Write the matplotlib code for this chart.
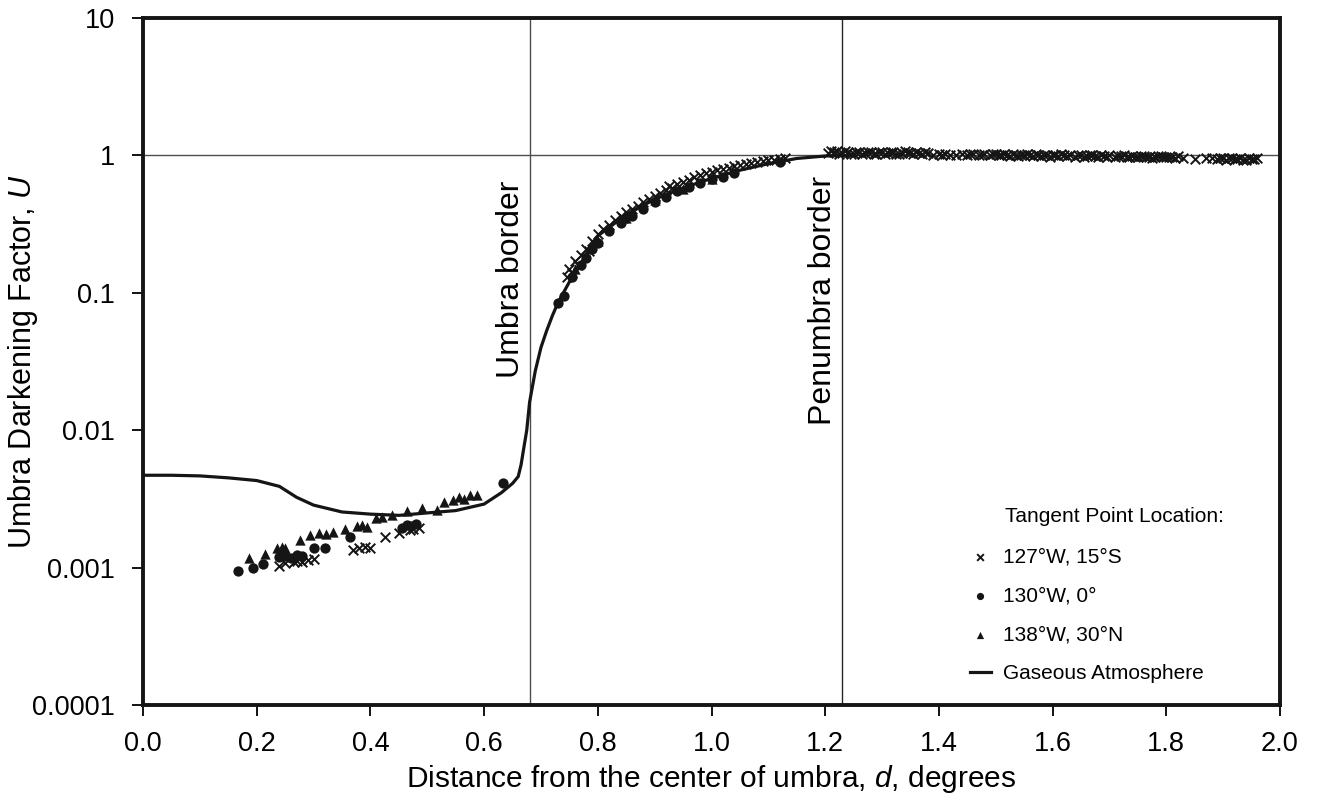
import matplotlib
matplotlib.use("Agg")
import matplotlib.pyplot as plt
from matplotlib.ticker import FixedLocator, FuncFormatter, NullLocator

plt.rcParams["font.family"] = ["Liberation Sans", "DejaVu Sans"]
plt.rcParams["mathtext.fontset"] = "custom"
plt.rcParams["mathtext.rm"] = "Liberation Sans"
plt.rcParams["mathtext.it"] = "Liberation Sans:italic"

# gaseous atmosphere model curve
gas_d = [0.0, 0.05, 0.10, 0.15, 0.20, 0.24, 0.27, 0.30, 0.35, 0.40, 0.45, 0.50,
         0.55, 0.60, 0.63, 0.65, 0.66, 0.665, 0.67, 0.675, 0.68, 0.69, 0.70, 0.71,
         0.72, 0.73, 0.75, 0.78, 0.80, 0.85, 0.90, 0.95, 1.00, 1.05, 1.10, 1.15,
         1.20, 1.25]
gas_u = [0.0047, 0.0047, 0.00465, 0.0045, 0.0043, 0.0039, 0.00325, 0.00285, 0.00254,
         0.00245, 0.0024, 0.0025, 0.0026, 0.0029, 0.0035, 0.0041, 0.0046, 0.0056,
         0.0075, 0.010, 0.016, 0.027, 0.040, 0.053, 0.068, 0.085, 0.12, 0.19, 0.26,
         0.37, 0.48, 0.58, 0.68, 0.78, 0.87, 0.95, 0.99, 1.0]

# 127W, 15S (crosses)
s1_d = [0.24, 0.25, 0.265, 0.27, 0.28, 0.29, 0.30, 0.37, 0.38, 0.39, 0.40, 0.425,
        0.45, 0.47, 0.475, 0.485,
        0.745, 0.75, 0.755, 0.76, 0.765, 0.77, 0.78, 0.785, 0.79, 0.80, 0.81, 0.82,
        0.83, 0.84, 0.845, 0.85, 0.86, 0.87, 0.88, 0.89, 0.90, 0.91, 0.92, 0.925,
        0.93, 0.94, 0.95, 0.96, 0.97, 0.98, 0.99, 1.00, 1.01, 1.02, 1.03, 1.04,
        1.05, 1.06, 1.07, 1.08, 1.09, 1.10, 1.11, 1.12, 1.13,
        1.21, 1.215, 1.22, 1.23, 1.24, 1.25, 1.26, 1.27, 1.28, 1.29, 1.30, 1.31,
        1.32, 1.33, 1.34, 1.35, 1.36, 1.37, 1.38, 1.39, 1.40, 1.41, 1.42, 1.43,
        1.44, 1.45, 1.46, 1.47, 1.48, 1.49, 1.50, 1.51, 1.52, 1.53, 1.54, 1.55,
        1.56, 1.57, 1.58, 1.59, 1.60, 1.61, 1.62, 1.63, 1.64, 1.65, 1.66, 1.67,
        1.68, 1.69, 1.70, 1.71, 1.72, 1.73, 1.74, 1.75, 1.76, 1.77, 1.78, 1.79,
        1.80, 1.81, 1.82, 1.83, 1.85, 1.87, 1.88, 1.89, 1.90, 1.91, 1.92, 1.93,
        1.94, 1.95, 1.96,
        1.205, 1.225, 1.235, 1.245, 1.255, 1.265, 1.275, 1.285, 1.295, 1.305,
        1.315, 1.325, 1.335, 1.345, 1.355, 1.365, 1.375, 1.405, 1.455, 1.475,
        1.495, 1.505, 1.515, 1.525, 1.535, 1.545, 1.555, 1.565, 1.575, 1.585,
        1.595, 1.605, 1.615, 1.625, 1.645, 1.655, 1.665, 1.675, 1.685, 1.695,
        1.715, 1.725, 1.735, 1.745, 1.755, 1.765, 1.775, 1.785, 1.795, 1.805,
        1.815, 1.895, 1.905, 1.915, 1.925, 1.935, 1.945, 1.955]
s1_u = [0.00102, 0.00108, 0.00110, 0.00112, 0.00110, 0.00113, 0.00115, 0.00135,
        0.00138, 0.00142, 0.00140, 0.00168, 0.00180, 0.00188, 0.00192, 0.00195,
        0.13, 0.15, 0.14, 0.17, 0.16, 0.19, 0.21, 0.20, 0.24, 0.27, 0.29, 0.31,
        0.34, 0.36, 0.35, 0.39, 0.41, 0.43, 0.46, 0.48, 0.51, 0.53, 0.56, 0.60,
        0.58, 0.62, 0.64, 0.66, 0.70, 0.72, 0.74, 0.76, 0.78, 0.80, 0.81, 0.84,
        0.85, 0.86, 0.88, 0.89, 0.91, 0.92, 0.93, 0.94, 0.95,
        1.08, 1.05, 1.07, 1.04, 1.06, 1.03, 1.05, 1.04, 1.06, 1.03, 1.05, 1.04,
        1.06, 1.03, 1.07, 1.04, 1.05, 1.03, 1.04, 1.01, 1.02, 1.03, 1.00, 1.01,
        1.02, 1.00, 1.02, 1.01, 1.03, 1.00, 1.02, 1.01, 1.00, 1.02, 0.99, 1.01,
        1.00, 1.02, 0.99, 1.00, 1.01, 0.99, 1.00, 1.01, 0.98, 1.00, 0.99, 1.00,
        0.98, 0.99, 1.00, 0.98, 0.99, 0.97, 0.99, 0.98, 0.99, 0.97, 0.98, 0.99,
        0.97, 0.98, 0.99, 0.96, 0.94, 0.95, 0.96, 0.94, 0.95, 0.96, 0.94, 0.95,
        0.93, 0.94, 0.95,
        1.04, 1.03, 1.07, 1.03, 1.05, 1.02, 1.06, 1.03, 1.05, 1.02, 1.06, 1.03,
        1.04, 1.06, 1.02, 1.04, 1.06, 1.00, 1.03, 1.00, 1.02, 1.00, 1.03, 0.99,
        1.01, 1.00, 1.02, 0.99, 1.01, 1.00, 0.98, 1.00, 1.02, 0.99, 1.00, 0.98,
        1.01, 0.99, 1.00, 0.97, 0.99, 1.00, 0.98, 0.97, 0.99, 0.98, 0.96, 0.99,
        0.97, 0.98, 0.96, 0.95, 0.93, 0.96, 0.94, 0.93, 0.95, 0.94]

# 130W, 0 (circles)
s2_d = [0.167, 0.193, 0.211, 0.24, 0.25, 0.26, 0.27, 0.28, 0.30, 0.32, 0.364,
        0.455, 0.464, 0.472, 0.48, 0.633,
        0.73, 0.74, 0.755, 0.77, 0.78, 0.79, 0.80, 0.82, 0.84, 0.86, 0.88, 0.90,
        0.92, 0.94, 0.96, 0.98, 1.00, 1.02, 1.04, 1.12]
s2_u = [0.00095, 0.00100, 0.00107, 0.00120, 0.00122, 0.00118, 0.00124, 0.00121,
        0.00140, 0.00138, 0.00168, 0.00195, 0.00205, 0.00200, 0.00208, 0.00415,
        0.085, 0.095, 0.13, 0.16, 0.18, 0.21, 0.23, 0.28, 0.32, 0.36, 0.41, 0.46,
        0.50, 0.55, 0.59, 0.63, 0.67, 0.70, 0.74, 0.90]

# 138W, 30N (triangles)
s3_d = [0.186, 0.215, 0.235, 0.245, 0.25, 0.276, 0.294, 0.31, 0.322, 0.334, 0.355,
        0.376, 0.385, 0.394, 0.41, 0.42, 0.438, 0.464, 0.49, 0.517, 0.53, 0.545,
        0.555, 0.565, 0.575, 0.587,
        0.76, 0.80, 0.85, 0.90, 0.95, 1.00]
s3_u = [0.00118, 0.00126, 0.00138, 0.00142, 0.00140, 0.00160, 0.00172, 0.00178,
        0.00175, 0.00182, 0.00191, 0.00200, 0.00205, 0.00198, 0.00228, 0.00232,
        0.00240, 0.00260, 0.00270, 0.00262, 0.00300, 0.00312, 0.00325, 0.00318,
        0.00335, 0.00340,
        0.15, 0.24, 0.35, 0.47, 0.57, 0.67]

fig = plt.figure(figsize=(13.17, 8.11), dpi=100)
ax = fig.add_axes([0.1086, 0.1307, 0.8633, 0.8471])

ax.axvline(0.68, color="0.3", lw=1, zorder=1)
ax.axvline(1.23, color="0.15", lw=1, zorder=1)
ax.axhline(1.0, color="0.3", lw=1, zorder=1)

ax.scatter(s1_d, s1_u, marker="x", s=48, color="#151515", linewidths=1.4,
           label="127°W, 15°S", zorder=3)
ax.scatter(s2_d, s2_u, marker="o", s=55, color="#151515", linewidths=0,
           label="130°W, 0°", zorder=3)
ax.scatter(s3_d, s3_u, marker="^", s=55, color="#151515", linewidths=0,
           label="138°W, 30°N", zorder=3)
ax.plot(gas_d, gas_u, color="#151515", lw=2.3, label="Gaseous Atmosphere", zorder=2)

ax.set_yscale("log")
ax.set_xlim(0, 2.0)
ax.set_ylim(0.0001, 10)
ax.set_xticks([0.0, 0.2, 0.4, 0.6, 0.8, 1.0, 1.2, 1.4, 1.6, 1.8, 2.0])
ax.xaxis.set_major_formatter(FuncFormatter(lambda v, p: "%.1f" % v))
ax.yaxis.set_major_locator(FixedLocator([0.0001, 0.001, 0.01, 0.1, 1, 10]))
ax.yaxis.set_minor_locator(NullLocator())
ax.yaxis.set_major_formatter(FuncFormatter(lambda v, p: "%g" % v))
ax.tick_params(direction="out", length=8, width=1.3, labelsize=19.5)
ax.tick_params(axis="x", pad=11)
ax.tick_params(axis="y", pad=12)

for sp in ax.spines.values():
    sp.set_linewidth(2.8)
    sp.set_color("#151515")

ax.set_xlabel("Distance from the center of umbra, $d$, degrees", fontsize=21.5)
ax.xaxis.set_label_coords(0.5, -0.085)
ax.set_ylabel("Umbra Darkening Factor, $U$", fontsize=22)
ax.yaxis.set_label_coords(-0.091, 0.5)

ax.text(0.673, 0.024, "Umbra border", rotation=90, fontsize=23,
        ha="right", va="bottom")
ax.text(1.223, 0.0109, "Penumbra border", rotation=90, fontsize=23,
        ha="right", va="bottom")

ax.text(0.758, 0.2737, "Tangent Point Location:", fontsize=15,
        transform=ax.transAxes, ha="left", va="center")
leg = ax.legend(loc="lower left", bbox_to_anchor=(0.7274, 0.032), frameon=False,
                fontsize=15, labelspacing=0.95, handlelength=1.0,
                handletextpad=0.6, markerscale=0.7, borderaxespad=0, borderpad=0)

plt.savefig("out.png", dpi=100)
